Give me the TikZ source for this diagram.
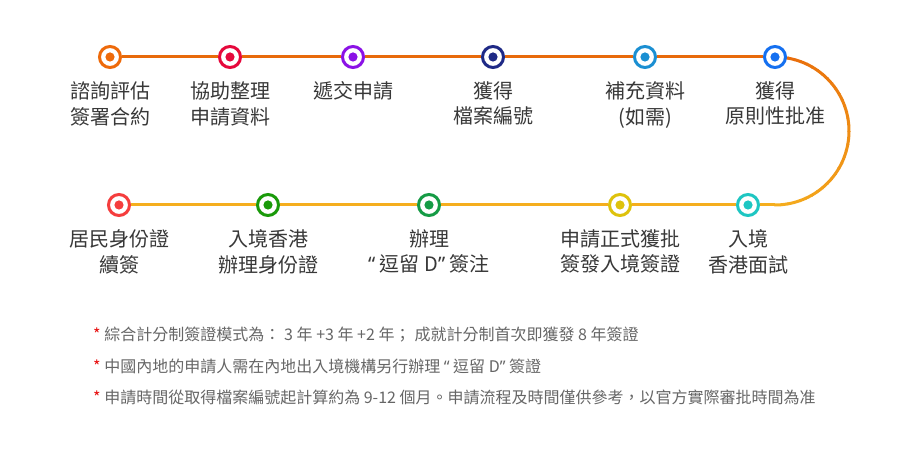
\documentclass[tikz,border=0pt]{standalone}
\usepackage{fontspec}
\setmainfont{Noto Sans CJK TC}
\newfontfamily\latinq{Noto Sans}
\definecolor{lineTop}{HTML}{E86A0A}
\definecolor{lineBot}{HTML}{F5AE1E}
\definecolor{cA}{HTML}{EE6A0A}
\definecolor{cB}{HTML}{E6083C}
\definecolor{cC}{HTML}{8B12E6}
\definecolor{cD}{HTML}{1F2A86}
\definecolor{cE}{HTML}{1B8FD2}
\definecolor{cF}{HTML}{1570F0}
\definecolor{cG}{HTML}{F53D3D}
\definecolor{cH}{HTML}{1A9A0A}
\definecolor{cI}{HTML}{159B45}
\definecolor{cJ}{HTML}{DEC20C}
\definecolor{cK}{HTML}{1EC6C2}
\definecolor{txt}{HTML}{383838}
\definecolor{notetxt}{HTML}{666666}
\definecolor{star}{HTML}{E81010}
\begin{document}
\begin{tikzpicture}[x=1pt,y=1pt,
  stopdot/.style={circle, draw=#1, line width=3pt, fill=white, minimum size=21pt, inner sep=0pt,
    path picture={\fill[#1] (path picture bounding box.center) circle (4.6pt);}},
  lbl/.style={anchor=north, align=center, inner sep=0pt, text=txt,
    font=\fontsize{20pt}{25.5pt}\selectfont},
  note/.style={anchor=west, inner sep=0pt, text=notetxt, font=\fontsize{16pt}{19pt}\selectfont},
  topline/.style={line width=3pt, draw=lineTop},
  botline/.style={line width=3pt, draw=lineBot}]
\useasboundingbox[fill=white] (0,0) rectangle (900,460);
\coordinate (arcc) at (775,329);
\coordinate (arcbot) at (775,255);
% curved connector (gradient orange -> yellow), drawn first so the stops cover it
\foreach \i in {0,...,35}{
  \pgfmathtruncatemacro{\p}{100*\i/35}
  \draw[line width=3pt, color=lineBot!\p!lineTop]
    ([shift={(90-5*\i:74)}]arcc) arc[start angle=90-5*\i, end angle=90-5*\i-5.6, radius=74];
}
% stops, top row
\node[stopdot=cA] (c1) at (110,403) {};
\node[stopdot=cB] (c2) at (230,403) {};
\node[stopdot=cC] (c3) at (353,403) {};
\node[stopdot=cD] (c4) at (493,403) {};
\node[stopdot=cE] (c5) at (645,403) {};
\node[stopdot=cF] (c6) at (775,403) {};
% stops, bottom row
\node[stopdot=cG] (c7) at (119,255) {};
\node[stopdot=cH] (c8) at (268,255) {};
\node[stopdot=cI] (c9) at (429,255) {};
\node[stopdot=cJ] (c10) at (620,255) {};
\node[stopdot=cK] (c11) at (748,255) {};
% connectors
\draw[topline] (c1) -- (c2) -- (c3) -- (c4) -- (c5) -- (c6);
\draw[botline] (c7) -- (c8) -- (c9) -- (c10) -- (c11) -- (arcbot);
% labels
\node[lbl] (l1) at ([yshift=-12.5pt]c1.south) {諮詢評估\\簽署合約};
\node[lbl] (l2) at ([yshift=-12.5pt]c2.south) {協助整理\\申請資料};
\node[lbl] (l3) at ([yshift=-12.5pt]c3.south) {遞交申請};
\node[lbl] (l4) at ([yshift=-12.5pt]c4.south) {獲得\\檔案編號};
\node[lbl] (l5) at ([yshift=-12.5pt]c5.south) {補充資料\\(如需)};
\node[lbl] (l6) at ([yshift=-12.5pt]c6.south) {獲得\\原則性批准};
\node[lbl] (l7) at ([yshift=-12.5pt]c7.south) {居民身份證\\續簽};
\node[lbl] (l8) at ([yshift=-12.5pt]c8.south) {入境香港\\辦理身份證};
\node[lbl] (l9) at ([yshift=-12.5pt]c9.south) {辦理\\{\latinq“} 逗留 D{\latinq”} 簽注};
\node[lbl] (l10) at ([yshift=-12.5pt]c10.south) {申請正式獲批\\簽發入境簽證};
\node[lbl] (l11) at ([yshift=-12.5pt]c11.south) {入境\\香港面試};
% notes
\node[note] (n1) at (93,125) {\textcolor{star}{*} 綜合計分制簽證模式為：\hspace{4pt}3 年 +3 年 +2 年；\hspace{4pt}成就計分制首次即獲發 8 年簽證};
\node[note] (n2) at (93,94) {\textcolor{star}{*} 中國內地的申請人需在內地出入境機構另行辦理 {\latinq“} 逗留 D{\latinq”} 簽證};
\node[note] (n3) at (93,63) {\textcolor{star}{*} 申請時間從取得檔案編號起計算約為 9-12 個月。申請流程及時間僅供參考，以官方實際審批時間為准};
\end{tikzpicture}
\end{document}
